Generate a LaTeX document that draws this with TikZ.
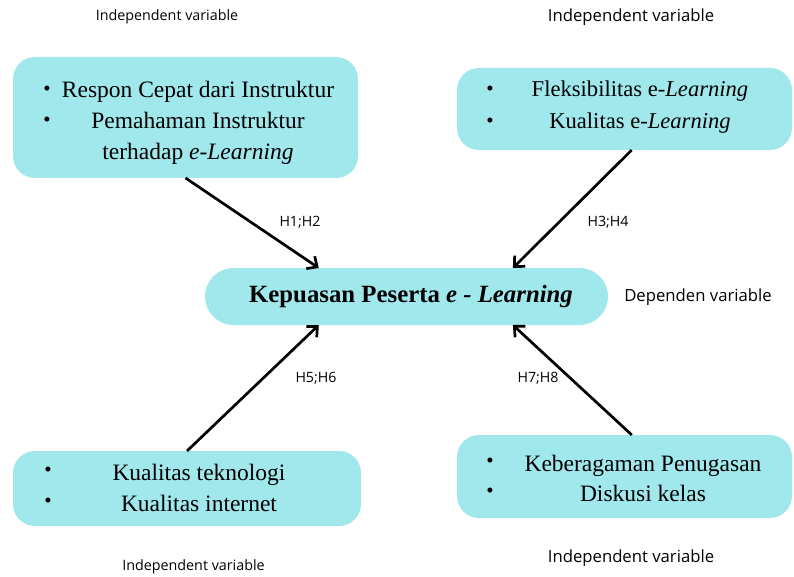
\documentclass[tikz,border=0pt]{standalone}
\usepackage{fontspec}
\usepackage{xcolor}
\usepackage{tikz}
\usetikzlibrary{arrows.meta}

\setmainfont{Liberation Serif}
\newfontfamily\labelfont{Open Sans}
\definecolor{boxcyan}{RGB}{160,232,236}

\begin{document}
\begin{tikzpicture}[x=1pt,y=-1pt,
    varbox/.style={fill=boxcyan, rounded corners=22pt, inner sep=0pt, outer sep=0pt},
    itemtext/.style={align=center, font=\fontsize{23.5}{31}\selectfont},
    bulletmark/.style={font=\fontsize{21}{31}\selectfont},
    varlabel/.style={font=\labelfont\fontsize{14.3}{17}\selectfont},
    biglabel/.style={font=\labelfont\fontsize{16.7}{19}\selectfont},
    hyplabel/.style={font=\labelfont\fontsize{14.2}{17}\selectfont},
    hyparrow/.style={line width=2.7pt, -{Straight Barb[length=8pt,width=15pt,line width=2.7pt]}}]
        \useasboundingbox (0,0) rectangle (794,577);

        % Variable boxes
        \node[varbox, minimum width=345pt, minimum height=121pt] (tl) at (185.5,117.5) {};
        \node[varbox, minimum width=335pt, minimum height=82pt] (tr) at (624.5,109) {};
        \node[varbox, minimum width=348pt, minimum height=75pt] (bl) at (187,488.5) {};
        \node[varbox, minimum width=335pt, minimum height=83pt] (br) at (624.5,476.5) {};
        \node[varbox, rounded corners=28.5pt, minimum width=403pt, minimum height=57pt] (kp) at (406.5,296.5) {};

        % Box texts
        \node[bulletmark] (tlb1) at (47,91) {\textbullet};
        \node[bulletmark] (tlb2) at (47,122) {\textbullet};
        \node[itemtext] (tltext) at (198,123) {Respon Cepat dari Instruktur\\Pemahaman Instruktur\\terhadap \textit{e-Learning}};

        \node[bulletmark] (trb1) at (490,91) {\textbullet};
        \node[bulletmark] (trb2) at (490,123) {\textbullet};
        \node[itemtext, font=\fontsize{22.6}{32}\selectfont] (trtext) at (640,107) {Fleksibilitas e-\textit{Learning}\\Kualitas e-\textit{Learning}};

        \node[bulletmark] (blb1) at (48,472) {\textbullet};
        \node[bulletmark] (blb2) at (48,503) {\textbullet};
        \node[itemtext] (bltext) at (199,487.5) {Kualitas teknologi\\Kualitas internet};

        \node[bulletmark] (brb1) at (490,463) {\textbullet};
        \node[bulletmark] (brb2) at (490,493) {\textbullet};
        \node[itemtext, font=\fontsize{23.5}{30}\selectfont] (brtext) at (643,478) {Keberagaman Penugasan\\Diskusi kelas};

        \node[font=\bfseries\fontsize{24.8}{28}\selectfont] (kptext) at (411,297) {Kepuasan Peserta \textit{e - Learning}};

        % Arrows to the dependent variable
        \draw[hyparrow] (tl.south) -- (kp.162);
        \draw[hyparrow] (tr.280) -- (kp.15);
        \draw[hyparrow] (bl.north) -- (kp.198);
        \draw[hyparrow] (br.80) -- (kp.345);

        % Hypothesis labels
        \node[hyplabel] (h12) at (300,222) {H1;H2};
        \node[hyplabel] (h34) at (608,222) {H3;H4};
        \node[hyplabel] (h56) at (316,378) {H5;H6};
        \node[hyplabel] (h78) at (538,378) {H7;H8};

        % Variable type labels
        \node[varlabel] (ivtl) at (167,17) {Independent variable};
        \node[biglabel] (ivtr) at (631,17) {Independent variable};
        \node[varlabel] (ivbl) at (193.5,567) {Independent variable};
        \node[biglabel] (ivbr) at (631,558) {Independent variable};
        \node[biglabel] (dv) at (698,297) {Dependen variable};
    \end{tikzpicture}
\end{document}
